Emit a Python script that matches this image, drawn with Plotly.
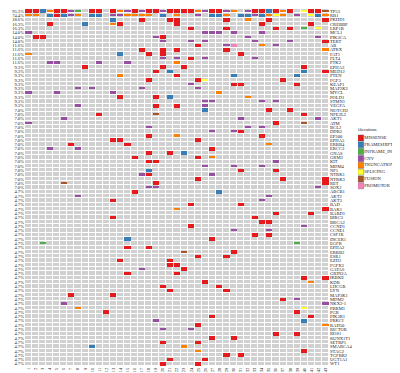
import plotly.graph_objects as go

# ---------------- data ----------------
samples = [str(i) for i in range(1, 44)]

genes = ["TP53", "RB1", "PKHD1", "CREBBP", "LRP1B", "MCL1", "PIK3CA", "TERT", "AR", "ATRX",
         "FAT1", "FLT4", "PTK2", "EPHA3", "MED12", "PTEN", "FGF3", "KEAP1", "MAP2K2", "MYCL",
         "POLD1", "STMN1", "VEGFA", "NOTCH2", "NFE2L2", "AKT1", "ATM", "BCL2", "DDR2", "EP300",
         "EPHA5", "ERBB4", "ERCC3", "GNAS", "GRM3", "KIT", "MDM4", "NF1", "NTRK1", "NTRK3",
         "RET", "SOX2", "ABCB1", "AKT2", "AKT3", "BAD", "BAK1", "BARD1", "BIRC3", "BRCA2",
         "CCND1", "CCNE1", "CSF1R", "DICER1", "EGFR", "EPHA2", "ERBB2", "ESR1", "EZH2", "FGFR3",
         "GATA6", "GRIN2A", "IKBKE", "KDR", "LHCGR", "LYN", "MAP3K1", "MDM2", "NKX2-1", "PBRM1",
         "PGR", "PIK3R1", "PRKCI", "RAD50", "RICTOR", "ROS1", "RUNX1T1", "SETBP1", "SMARCA4", "STAG2",
         "TGFBR2", "UGT1A1", "WT1"]

pct_labels = (["95.3%", "74.4%", "18.6%"] + ["16.3%"] * 2 + ["14.0%"] * 3 + ["11.6%"] * 5
              + ["9.3%"] * 10 + ["7.0%"] * 19 + ["4.7%"] * 41)

alt_types = ["MISSENSE", "FRAMESHIFT", "INFRAME_INDEL", "CNV", "TRUNCATION", "SPLICING", "FUSION", "PROMOTOR"]
alt_colors = ["#E41A1C", "#377EB8", "#4DAF4A", "#984EA3", "#FF7F00", "#FFFF33", "#A65628", "#F781BF"]

MISSENSE = [
    ("TP53", [1, 2, 5, 6, 10, 11, 13, 16, 18, 19, 21, 22, 23, 24, 27, 28, 33, 34, 36, 38, 41, 42]),
    ("RB1", [5]), ("PKHD1", [17, 21, 22, 29, 35, 43]), ("CREBBP", [4, 14, 22, 34, 41]),
    ("LRP1B", [24, 29, 36, 38]), ("PIK3CA", [2, 3, 20]), ("TERT", [43]), ("AR", [25]),
    ("ATRX", [17, 20, 22, 29]), ("FAT1", [18, 20, 31]), ("FLT4", [24]), ("EPHA3", [9, 20, 23, 40]),
    ("MED12", [19, 43]), ("PTEN", [22]), ("FGF3", [18, 25, 37]), ("KEAP1", [30, 31, 39]),
    ("POLD1", [14, 19]), ("VEGFA", [19, 22]), ("NOTCH2", [35, 38]), ("NFE2L2", [11, 40]),
    ("ATM", [36]), ("DDR2", [31]), ("EP300", [18, 34]), ("EPHA5", [13, 14, 25]), ("ERBB4", [7, 15]),
    ("ERCC3", [27]), ("GNAS", [18, 21]), ("GRM3", [16, 25]), ("KIT", [18, 19]), ("NF1", [31, 36]),
    ("NTRK1", [18]), ("NTRK3", [25, 37, 43]), ("RET", [19, 43]), ("ABCB1", [16]), ("AKT3", [13]),
    ("BAD", [24, 31]), ("BAK1", [43]), ("BARD1", [36, 41]), ("BIRC3", [13, 33]), ("BRCA2", [34, 35]),
    ("CCND1", [24]), ("CSF1R", [33, 35]), ("DICER1", [27]), ("EPHA2", [15, 18]), ("ERBB2", [30]),
    ("ESR1", [25, 29]), ("EZH2", [14, 21]), ("FGFR3", [21, 22]), ("GATA6", [23]), ("GRIN2A", [15, 22]),
    ("IKBKE", [40, 43]), ("KDR", [26]), ("LHCGR", [20, 28]), ("LYN", [21, 29]), ("MAP3K1", [7, 13]),
    ("MDM2", [37]), ("PGR", [12, 39]), ("PIK3R1", [27, 41]), ("RAD50", [25]), ("ROS1", [36, 39]),
    ("RUNX1T1", [27, 30]), ("SETBP1", [20, 25]), ("STAG2", [40]), ("TGFBR2", [29, 31]),
    ("UGT1A1", [21, 26]), ("WT1", [20, 25]),
]
FRAMESHIFT = [
    ("TP53", [3, 35]), ("RB1", [4, 6, 10, 11, 20, 27, 28, 31, 32, 34, 42]), ("PKHD1", [13]),
    ("CREBBP", [9]), ("FAT1", [14]), ("MED12", [21, 40]), ("PTEN", [30, 39]), ("POLD1", [21]),
    ("NOTCH2", [26]), ("GNAS", [23]), ("NF1", [18]), ("ABCB1", [28]), ("DICER1", [15]),
    ("PRKCI", [40]), ("SMARCA4", [10]),
]
INFRAME_INDEL = [("TP53", [8]), ("LRP1B", [40]), ("EGFR", [3, 39])]
CNV = [
    ("TP53", [7, 15, 17, 20, 26, 29, 32]), ("RB1", [7, 13, 14, 25, 33, 39]), ("MCL1", [1, 26, 27, 28, 30, 34]),
    ("PIK3CA", [19, 32, 42]), ("TERT", [20, 24, 26, 33, 38]), ("AR", [29, 36]), ("FLT4", [20, 22, 26, 33]),
    ("PTK2", [4, 5, 11, 15]), ("KEAP1", [24]), ("MAP2K2", [8, 10, 17, 25]), ("MYCL", [1, 5, 13]),
    ("STMN1", [26, 27, 34, 36]), ("VEGFA", [8, 26]), ("AKT1", [6, 31, 42]), ("ATM", [1]),
    ("BCL2", [18, 32, 34]), ("DDR2", [27, 30]), ("ERCC3", [4, 8]), ("KIT", [36]), ("MDM4", [26, 30, 34]),
    ("NTRK1", [17, 27]), ("SOX2", [18, 19, 42]), ("AKT2", [8, 35]), ("AKT3", [34]), ("CCND1", [40]),
    ("CCNE1", [30, 35]), ("GATA6", [17]), ("MDM2", [39]), ("NKX2-1", [6, 43]), ("PRKCI", [19]),
    ("RICTOR", [20, 24]),
]
TRUNCATION = [
    ("TP53", [4, 14, 25, 30, 37]), ("RB1", [1, 2, 8, 15, 16, 17, 18, 22, 29, 35, 37, 43]), ("PKHD1", [32]),
    ("CREBBP", [13]), ("AR", [34]), ("ATRX", [43]), ("FAT1", [1]), ("PTK2", [22]), ("PTEN", [14]),
    ("MYCL", [28]), ("POLD1", [32]), ("EP300", [22]), ("ERBB4", [35]), ("GRM3", [27]), ("BAK1", [22]),
    ("KDR", [41]), ("PBRM1", [8]), ("RAD50", [43]), ("SMARCA4", [23]), ("STAG2", [25]),
]
SPLICING = [("TP53", [40]), ("RB1", [36, 41]), ("LRP1B", [42]), ("FGF3", [26]), ("PBRM1", [40])]
FUSION = [("TP53", [43]), ("NFE2L2", [19]), ("ATM", [40]), ("RET", [6]), ("ERBB2", [23])]
PROMOTOR = [("AR", [30])]

alt_data = [MISSENSE, FRAMESHIFT, INFRAME_INDEL, CNV, TRUNCATION, SPLICING, FUSION, PROMOTOR]
# relative bar height for each alteration type (fraction of a row)
alt_heights = [0.82, 0.82, 0.5, 0.42, 0.42, 0.42, 0.42, 0.5]

# ---------------- figure ----------------
n_g, n_s = len(genes), len(samples)
row_of = {g: i for i, g in enumerate(genes)}
x_num = list(range(1, n_s + 1))

fig = go.Figure()
fig.add_trace(go.Heatmap(
    z=[[0] * n_s for _ in range(n_g)], x=x_num, y=list(range(n_g)),
    colorscale=[[0, "#D0D0D0"], [1, "#D0D0D0"]], showscale=False,
    xgap=1, ygap=1, hoverinfo="skip"))

for name, col, data, h in zip(alt_types, alt_colors, alt_data, alt_heights):
    xs, bases = [], []
    for g, smp in data:
        for s in smp:
            xs.append(s)
            bases.append(row_of[g] - h / 2)
    if xs:
        fig.add_trace(go.Bar(x=xs, y=[h] * len(xs), base=bases, width=0.86,
                             marker=dict(color=col, line=dict(width=0)), name=name,
                             hoverinfo="skip"))

# invisible trace for the right-hand gene axis
fig.add_trace(go.Scatter(x=[None], y=[None], yaxis="y2", showlegend=False, hoverinfo="skip"))

# custom legend
fig.add_trace(go.Scatter(x=[0.6] * len(alt_types), y=list(range(len(alt_types))), mode="markers",
                         marker=dict(symbol="square", size=6, color=alt_colors,
                                     line=dict(width=0.4, color="#555555")),
                         xaxis="x3", yaxis="y3", hoverinfo="skip"))
fig.add_trace(go.Scatter(x=[1.4] * len(alt_types), y=list(range(len(alt_types))), mode="text",
                         text=alt_types, textposition="middle right",
                         textfont=dict(size=4.6, family="Liberation Serif", color="#222222"),
                         xaxis="x3", yaxis="y3", hoverinfo="skip"))
fig.add_trace(go.Scatter(x=[-0.4], y=[-1.2], mode="text", text=["Alterations"], textposition="middle right",
                         textfont=dict(size=4.6, family="Liberation Serif", color="#222222"),
                         xaxis="x3", yaxis="y3", hoverinfo="skip"))

xr = (321 - 17) / 378
fig.update_layout(
    width=400, height=373, barmode="overlay", bargap=0, showlegend=False,
    plot_bgcolor="white", paper_bgcolor="white",
    margin=dict(l=17, r=5, t=1, b=15),
    font=dict(family="Liberation Serif", color="#222222"),
    xaxis=dict(domain=[0, xr], range=[0.5, n_s + 0.5], tickmode="array", tickvals=x_num, ticktext=samples,
               tickangle=-90, tickfont=dict(size=4.4), showgrid=False, zeroline=False, ticks="",
               showline=False, fixedrange=True),
    yaxis=dict(range=[n_g - 0.5, -0.5], tickmode="array", tickvals=list(range(n_g)), ticktext=pct_labels,
               tickfont=dict(size=4.6), showgrid=False, zeroline=False, ticks="", showline=False),
    yaxis2=dict(range=[n_g - 0.5, -0.5], tickmode="array", tickvals=list(range(n_g)), ticktext=genes,
                tickfont=dict(size=4.6), overlaying="y", side="right", anchor="x", showgrid=False,
                zeroline=False, ticks="", showline=False),
    xaxis3=dict(domain=[(350 - 17) / 378, 1], range=[0, 10], visible=False),
    yaxis3=dict(domain=[0.4889, 0.6778], range=[7.83, -2.03], visible=False, anchor="x3"),
)
fig.write_html("out.html")
